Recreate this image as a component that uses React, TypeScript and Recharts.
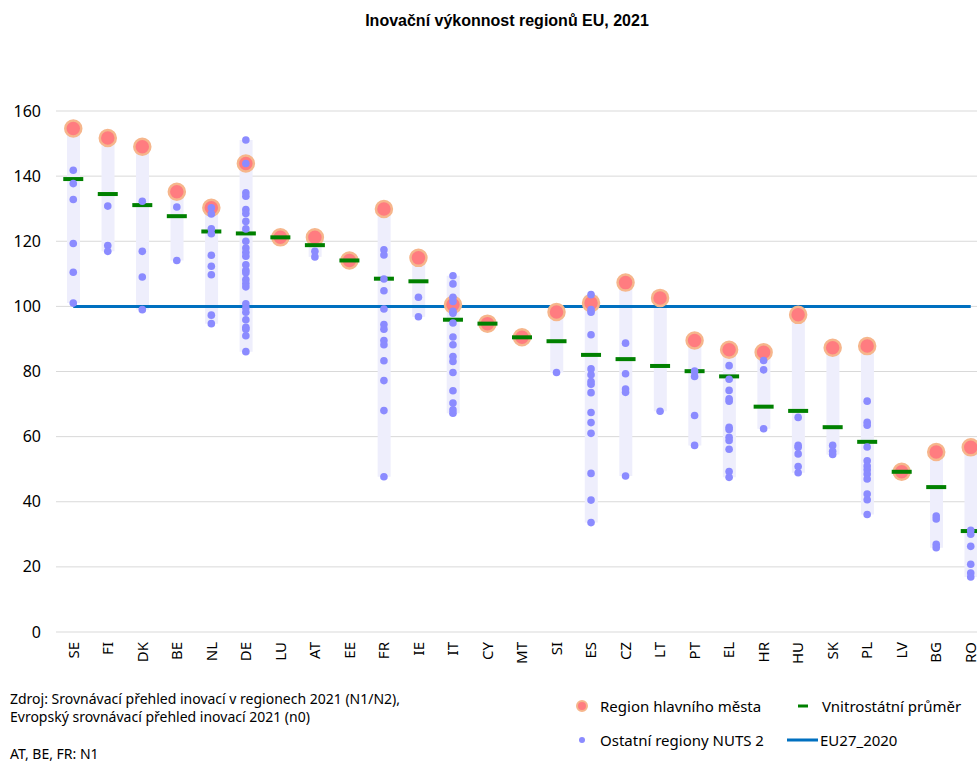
import React from 'react';
import { ComposedChart, Bar, Line, Scatter, XAxis, YAxis, CartesianGrid } from 'recharts';

const countries = ['SE','FI','DK','BE','NL','DE','LU','AT','EE','FR','IE','IT','CY','MT','SI','ES','CZ','LT','PT','EL','HR','HU','SK','PL','LV','BG','RO'];

const capitalRegion = [154.6,151.7,149.0,135.2,130.3,143.9,121.2,121.2,114.1,129.9,114.9,100.5,94.7,90.5,98.3,101.0,107.3,102.6,89.5,86.7,85.9,97.4,87.3,87.8,49.2,55.3,56.7];

const nationalAverage = [139.1,134.5,131.1,127.7,123.0,122.4,121.2,118.8,114.1,108.5,107.7,95.9,94.7,90.5,89.3,85.1,83.8,81.7,80.1,78.5,69.2,67.9,62.9,58.4,49.2,44.5,31.0];

const otherRegions: number[][] = [
  [141.8,137.7,132.8,119.3,110.5,101.0],
  [130.8,118.7,116.9],
  [132.3,116.9,109.0,99.0],
  [130.5,114.1],
  [130.3,128.4,123.8,122.3,115.7,112.3,109.7,97.3,94.7],
  [151.1,143.9,134.9,133.8,129.7,128.5,126.1,123.8,120.0,117.9,116.6,115.4,112.8,111.1,110.3,108.2,107.0,106.0,100.8,99.5,98.2,95.9,93.6,93.0,91.0,86.1],
  [],
  [116.9,115.2],
  [],
  [117.4,115.8,108.4,104.8,99.2,94.4,93.0,89.5,88.2,83.3,77.2,68.0,47.7],
  [102.8,96.8],
  [109.4,106.9,102.8,101.5,98.5,97.9,94.9,90.6,88.2,84.6,83.1,79.7,74.1,70.3,68.2,67.2],
  [],
  [],
  [79.7],
  [103.6,99.0,98.2,91.3,80.8,79.0,76.9,76.1,73.5,67.4,64.3,61.0,48.7,40.5,33.6],
  [88.7,79.3,74.6,73.6,47.9],
  [67.8],
  [80.1,78.5,66.5,57.3],
  [81.8,77.6,74.2,71.6,70.9,62.9,62.2,59.8,58.8,56.1,49.3,47.5],
  [83.4,80.5,62.4],
  [65.9,57.3,56.7,54.7,50.8,48.9],
  [57.3,55.5,54.5],
  [70.9,64.4,63.5,56.8,52.6,51.0,49.8,48.5,47.0,42.4,40.6,36.1],
  [],
  [35.6,34.7,26.9,25.9],
  [31.2,30.0,26.3,20.8,18.1,16.9],
];

const euBenchmark = 100;
const yTicks = [0, 20, 40, 60, 80, 100, 120, 140, 160];

const titleText = 'Inovační výkonnost regionů EU, 2021';
const sourceLines = ['Zdroj: Srovnávací přehled inovací v regionech 2021 (N1/N2),', 'Evropský srovnávací přehled inovací 2021 (n0)'];
const footnote = 'AT, BE, FR: N1';
const legendLabels = ['Region hlavního města', 'Vnitrostátní průměr', 'Ostatní regiony NUTS 2', 'EU27_2020'];

const rows = countries.map((c, i) => {
  const all = [capitalRegion[i], ...otherRegions[i]];
  return {
    c,
    range: otherRegions[i].length ? [Math.min(...all), Math.max(...all)] : null,
    avg: nationalAverage[i],
    cap: capitalRegion[i],
    eu: euBenchmark,
  };
});

const otherPoints = countries.flatMap((c, i) =>
  otherRegions[i].length ? otherRegions[i].map((v) => ({ c, v })) : [{ c, v: null as number | null }]
);

const FONT = '"Noto Sans", "Open Sans", sans-serif';
const SALMON = '#FF7C80';
const SALMON_EDGE = '#F6B68C';
const PERI = '#8B8BFF';
const GREEN = '#008000';
const BLUE = '#0070C0';

const CapDot = (p: any) => {
  if (p.cx == null || p.cy == null) return <g key={p.key} />;
  return <circle key={p.key} cx={p.cx} cy={p.cy} r={8} fill={SALMON} stroke={SALMON_EDGE} strokeWidth={2.5} />;
};

const AvgDash = (p: any) => {
  if (p.cx == null || p.cy == null) return <g key={p.key} />;
  return <rect key={p.key} x={p.cx - 10} y={p.cy - 2} width={20} height={4} fill={GREEN} />;
};

const OtherDot = (p: any) => {
  if (!p.payload || p.payload.v == null || p.cy == null || isNaN(p.cy)) return <g />;
  return <circle cx={p.cx} cy={p.cy} r={3.8} fill={PERI} />;
};

const XTick = (p: any) => (
  <text
    transform={`translate(${p.x},${p.y + 10}) rotate(-90)`}
    textAnchor="end"
    dy="0.35em"
    fontFamily={FONT}
    fontSize={15}
    fill="#000"
  >
    {p.payload.value}
  </text>
);

const YTick = (p: any) => (
  <text x={41} y={p.y} dy="0.35em" textAnchor="end" fontFamily={FONT} fontSize={16} fill="#000">
    {p.payload.value}
  </text>
);

export default function App() {
  return (
    <div style={{ position: 'absolute', left: 0, top: 0, width: 977, height: 763, overflow: 'hidden', background: '#fff' }}>
      <ComposedChart width={1000} height={763} data={rows} margin={{ top: 111, right: 12, left: 0, bottom: 0 }}>
        <CartesianGrid vertical={false} stroke="#D9D9D9" />
        <XAxis
          dataKey="c"
          type="category"
          allowDuplicatedCategory={false}
          axisLine={false}
          tickLine={false}
          tickSize={0}
          tickMargin={0}
          height={131}
          interval={0}
          tick={XTick}
        />
        <YAxis
          type="number"
          domain={[0, 160]}
          ticks={yTicks}
          allowDataOverflow
          axisLine={false}
          tickLine={false}
          width={56}
          tick={YTick}
        />
        <Bar dataKey="range" barSize={13} fill="#EEEEFC" isAnimationActive={false} />
        <Line dataKey="eu" stroke={BLUE} strokeWidth={3} dot={false} activeDot={false} isAnimationActive={false} />
        <Line dataKey="cap" stroke="none" dot={CapDot} activeDot={false} isAnimationActive={false} />
        <Line dataKey="avg" stroke="none" dot={AvgDash} activeDot={false} isAnimationActive={false} />
        <Scatter data={otherPoints} dataKey="v" shape={OtherDot} isAnimationActive={false} />
      </ComposedChart>
      <svg width={977} height={763} style={{ position: 'absolute', left: 0, top: 0, pointerEvents: 'none' }}>
        <text x={507} y={20} textAnchor="middle" dominantBaseline="central" fontFamily='"Liberation Sans", Arial, sans-serif' fontWeight="bold" fontSize={16} fill="#000">
          {titleText}
        </text>
        <text x={10} y={698} dominantBaseline="central" fontFamily={FONT} fontSize={14} fill="#000">{sourceLines[0]}</text>
        <text x={10} y={716} dominantBaseline="central" fontFamily={FONT} fontSize={14} fill="#000">{sourceLines[1]}</text>
        <text x={10} y={753} dominantBaseline="central" fontFamily={FONT} fontSize={14} fill="#000">{footnote}</text>

        <circle cx={582} cy={706} r={5} fill={SALMON} stroke={SALMON_EDGE} strokeWidth={2} />
        <text x={600} y={706} dominantBaseline="central" fontFamily={FONT} fontSize={15} fill="#000">{legendLabels[0]}</text>
        <rect x={798} y={704.5} width={10} height={3} fill={GREEN} />
        <text x={822} y={706} dominantBaseline="central" fontFamily={FONT} fontSize={15} fill="#000">{legendLabels[1]}</text>

        <circle cx={582} cy={740} r={3} fill={PERI} />
        <text x={600} y={740} dominantBaseline="central" fontFamily={FONT} fontSize={15} fill="#000">{legendLabels[2]}</text>
        <rect x={787} y={738.5} width={31} height={3} fill={BLUE} />
        <text x={820} y={740} dominantBaseline="central" fontFamily={FONT} fontSize={15} fill="#000">{legendLabels[3]}</text>
      </svg>
    </div>
  );
}
